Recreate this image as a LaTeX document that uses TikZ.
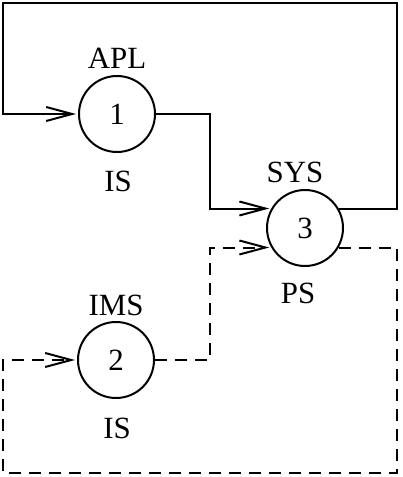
\documentclass[tikz,border=0pt]{standalone}
\usepackage{fontspec}
\setmainfont{Liberation Serif}
\usetikzlibrary{arrows.meta}
\begin{document}
\begin{tikzpicture}[x=1bp,y=-1bp,
  proc/.style={draw,circle,line width=2bp,minimum size=76bp,inner sep=0pt,font=\fontsize{31}{36}\selectfont},
  lab/.style={inner sep=0pt,font=\fontsize{31}{36}\selectfont},
  flow/.style={line width=2bp,-{Straight Barb[length=26bp,width=14bp,line width=2bp]},shorten >=2bp},
  dflow/.style={flow,dash pattern=on 12bp off 8bp}]
\useasboundingbox (0,0) rectangle (402,477);
\node[proc] (c1) at (117,114) {1};
\node[proc] (c3) at (305,228) {3};
\node[proc] (c2) at (116,360) {2};
\node[lab] (apl) at (117,58) {APL};
\node[lab] (is1) at (118,181) {IS};
\node[lab] (sys) at (295,172) {SYS};
\node[lab] (ps) at (298,293) {PS};
\node[lab] (ims) at (116,305) {IMS};
\node[lab] (is2) at (117,428) {IS};
\coordinate (a1) at (210,114);
\coordinate (a2) at (397,3);
\coordinate (a3) at (3,3);
\coordinate (b1) at (210,360);
\coordinate (b2) at (397,473);
\coordinate (b3) at (3,473);
\draw[flow] (c1.east) -- (a1) |- (c3.150);
\draw[flow] (c3.30) -| (a2) -| (a3) |- (c1.west);
\draw[dflow] (c2.east) -- (b1) |- (c3.210);
\draw[dflow] (c3.-30) -| (b2) -| (b3) |- (c2.west);
\end{tikzpicture}
\end{document}
